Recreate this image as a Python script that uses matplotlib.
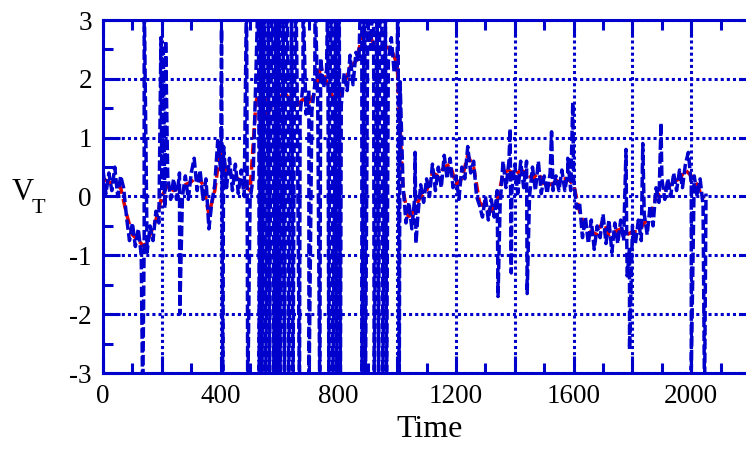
# V_T time series: raw signal (blue) and smoothed signal (red)
import numpy as np
import matplotlib
matplotlib.use('Agg')
import matplotlib.pyplot as plt
from matplotlib.ticker import MultipleLocator, FixedLocator, FuncFormatter

plt.rcParams['font.family'] = ['Liberation Serif', 'DejaVu Serif']
plt.rcParams['savefig.bbox'] = 'standard'

BLUE = '#0000cc'
RED = '#e00000'

# raw signal, one value every 10 time steps (0 .. 2050)
raw_t = np.arange(0, 2060, 10)
raw_v = [
    0.45, 0.05, 0.4, 0.1, 0.5, 0.0, 0.35, 0.15, -0.35, -0.75,
    -0.45, -0.85, -0.55, -1.0, -0.7, -0.95, -0.5, -0.75, -0.25, -0.45,
    0.15, -0.2, 0.35, -0.05, 0.3, -0.05, 0.4, 0.0, 0.35, -0.05,
    0.4, 0.65, 0.1, 0.45, -0.05, 0.3, -0.55, -0.1, 0.2, 0.95,
    0.45, 0.85, 0.15, 0.65, 0.1, 0.55, 0.05, 0.45, 0.0, 0.35,
    -0.05, 0.3, 2.1, 1.75, 2.2, 1.4, 1.55, 1.2, 1.9, 1.4,
    1.85, 1.35, 1.95, 1.4, 1.85, 1.35, 1.8, 1.4, 1.9, 1.4,
    1.8, 1.45, 1.9, 1.6, 2.35, 1.85, 2.15, 1.6, 1.9, 1.5,
    1.85, 1.55, 2.1, 1.8, 2.4, 1.9, 2.45, 2.3, 2.9, 2.5,
    2.95, 2.5, 2.85, 2.45, 2.8, 2.2, 2.75, 2.3, 2.7, 2.1,
    2.35, 1.95, 0.2, -0.45, -0.1, -0.55, 0.0, -0.35, 0.2, -0.1,
    0.3, 0.0, 0.55, 0.1, 0.5, 0.15, 0.7, 0.3, 0.65, 0.15,
    0.35, -0.05, 0.5, 0.3, 0.85, 0.4, 0.6, 0.0, -0.15, -0.35,
    0.0, -0.4, -0.05, -0.35, 0.1, -0.15, 0.6, 0.15, 0.6, 0.1,
    0.55, 0.05, 0.6, 0.15, 0.6, 0.0, 0.5, 0.1, 0.6, 0.05,
    0.35, 0.05, 0.4, 0.1, 0.35, 0.1, 0.45, 0.1, 0.4, 0.1,
    0.3, -0.2, -0.1, -0.7, -0.35, -0.8, -0.4, -0.9, -0.5, -0.7,
    -0.3, -0.8, -0.4, -0.95, -0.45, -0.8, -0.4, -0.75, -0.45, -0.9,
    -0.5, -0.8, -0.4, -0.75, -0.3, -0.65, -0.15, -0.5, 0.15, -0.1,
    0.3, -0.05, 0.3, 0.0, 0.4, 0.1, 0.45, 0.15, 0.55, 0.75,
    0.2, 0.35, 0.0, 0.3, -0.15, 0.05,
]

# spikes that leave the plot at the top / bottom
OFF_SCALE = 3.5
spike_up_t = [140, 488, 527, 536, 548, 562, 575, 588, 597, 612,
              626, 641, 656, 680, 721, 764, 777, 790, 803, 876,
              888, 918, 932, 946, 960, 1003]
spike_dn_t = [135, 407, 492, 531, 540, 553, 566, 580, 592, 602,
              617, 631, 646, 668, 700, 737, 768, 781, 794, 807,
              880, 892, 922, 937, 951, 964, 1007, 2045]
# shorter spikes that stay on scale
spike_t = [197, 205, 213, 261, 403, 1061, 1064, 1343, 1384, 1388,
           1442, 1525, 1580, 1597, 1778, 1782, 1790, 1835, 1897, 2000]
spike_v = [2.7, 2.5, 2.65, -2.0, 2.85, 0.75, -0.8, -1.7, 1.15, -1.3,
           -1.65, 1.1, 0.65, 1.6, 0.8, -1.35, -2.6, 0.9, 1.25, -2.95]

# smoothed signal, one value every 20 time steps
smooth_t = np.arange(0, 2060, 20)
smooth_v = [
    0.3, 0.25, 0.2, 0.15, -0.3, -0.65, -0.75, -0.85, -0.65, -0.4,
    0.0, 0.2, 0.1, 0.15, 0.2, 0.25, 0.35, 0.2, -0.3, 0.1,
    0.85, 0.4, 0.35, 0.3, 0.2, 0.1, 1.6, 2.0, 1.4, 1.6,
    1.7, 1.75, 1.6, 1.55, 1.65, 1.6, 1.75, 2.2, 1.95, 1.7,
    1.65, 1.9, 2.2, 2.3, 2.7, 2.8, 2.6, 2.55, 2.55, 2.5,
    2.25, 0.1, -0.4, -0.2, 0.0, 0.1, 0.4, 0.35, 0.5, 0.55,
    0.2, 0.3, 0.7, 0.5, -0.1, -0.2, -0.25, -0.1, 0.4, 0.45,
    0.35, 0.45, 0.4, 0.3, 0.4, 0.2, 0.2, 0.25, 0.3, 0.3,
    0.2, -0.25, -0.55, -0.6, -0.65, -0.4, -0.65, -0.6, -0.55, -0.65,
    -0.6, -0.6, -0.45, -0.35, 0.0, 0.1, 0.15, 0.25, 0.3, 0.45,
    0.35, 0.2, -0.05,
]

x_major = [0, 200, 400, 600, 800, 1000, 1200, 1400, 1600, 1800, 2000]

# merge the spikes into the raw trace
all_t = np.concatenate([raw_t, spike_up_t, spike_dn_t, spike_t])
all_v = np.concatenate([raw_v,
                        np.full(len(spike_up_t), OFF_SCALE),
                        np.full(len(spike_dn_t), -OFF_SCALE),
                        spike_v])
order = np.argsort(all_t, kind='stable')
all_t = all_t[order]
all_v = all_v[order]

fig = plt.figure(figsize=(7.4601, 4.4901), dpi=100)
# the right-hand frame sits just outside the picture
ax = fig.add_axes([103 / 746, 76 / 449, 653 / 746, 353 / 449])

ax.plot(smooth_t, smooth_v, color=RED, lw=2.5, dashes=(3, 1.5), zorder=2)
ax.plot(all_t, all_v, color=BLUE, lw=2.5, dashes=(3, 1), zorder=3)

ax.set_xlim(0, 2220)
ax.set_ylim(-3, 3)
ax.xaxis.set_major_locator(FixedLocator(x_major))
ax.xaxis.set_minor_locator(MultipleLocator(100))
ax.yaxis.set_major_locator(MultipleLocator(1))
ax.yaxis.set_minor_locator(MultipleLocator(0.5))
ax.xaxis.set_major_formatter(FuncFormatter(
    lambda v, p: '%d' % v if int(round(v)) % 400 == 0 else ''))
ax.yaxis.set_major_formatter(FuncFormatter(lambda v, p: '%d' % v))

ax.grid(True, which='major', color=BLUE, lw=2.2, linestyle=(0, (1, 1)))
ax.set_axisbelow(True)
for s in ax.spines.values():
    s.set_color(BLUE)
    s.set_linewidth(2.2)
ax.tick_params(which='both', direction='in', top=True, right=True,
               color=BLUE, labelsize=19.5, labelcolor='black')
ax.tick_params(which='major', length=12, width=2.2, pad=8)
ax.tick_params(which='minor', length=7, width=2.2)

ax.set_xlabel('Time', fontsize=23, labelpad=4)
fig.text(12 / 746, 1 - 200 / 449, 'V', fontsize=22, ha='left',
         va='baseline')
fig.text(32 / 746, 1 - 213 / 449, 'T', fontsize=16, ha='left',
         va='baseline')

fig.savefig('out.png', dpi=100, bbox_inches=None)
